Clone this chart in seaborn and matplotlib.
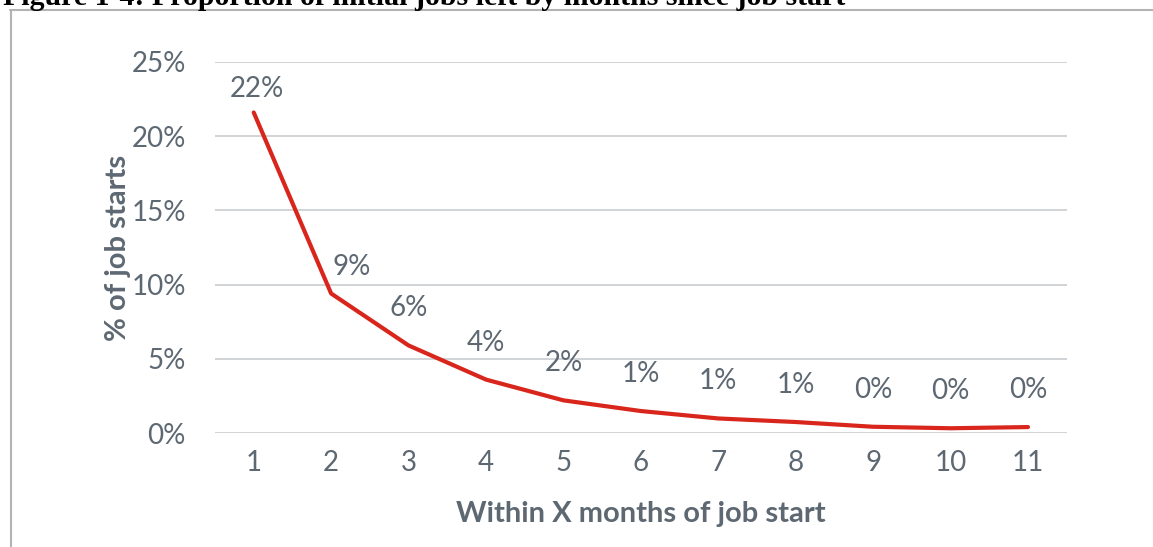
import matplotlib
matplotlib.use("Agg")
import matplotlib.pyplot as plt
from matplotlib.lines import Line2D
import seaborn as sns
import pandas as pd

# Share of initial jobs left, by months since the job started
months = [1, 2, 3, 4, 5, 6, 7, 8, 9, 10, 11]
share_left = [0.216, 0.094, 0.059, 0.036, 0.022, 0.0148, 0.0098, 0.0074, 0.0042, 0.0032, 0.0040]
y_ticks = [0.0, 0.05, 0.10, 0.15, 0.20, 0.25]

title = "Figure 1-4: Proportion of initial jobs left by months since job start"
x_title = "Within X months of job start"
y_title = "% of job starts"

TEXT = "#5d6872"
GRID = "#c9cdd1"
LINE = "#d9261c"
FONT = "Lato"

sns.set_theme(style="white")
plt.rcParams["font.family"] = [FONT, "DejaVu Sans"]

df = pd.DataFrame({"month": months, "share": share_left})

fig = plt.figure(figsize=(11.53, 5.47), dpi=100)
ax = fig.add_axes([215 / 1153, 1 - 433 / 547, (1066.7 - 215) / 1153, (433 - 62) / 547])

sns.lineplot(data=df, x="month", y="share", ax=ax, color=LINE, linewidth=3,
             solid_joinstyle="round", solid_capstyle="round", clip_on=False)

ax.set_xlim(0.5, 11.5)
ax.set_ylim(0, 0.25)
ax.set_yticks(y_ticks)
ax.set_yticklabels([f"{v:.0%}" for v in y_ticks])
ax.set_xticks(months)
ax.set_xticklabels([str(m) for m in months])
ax.tick_params(axis="both", length=0, labelsize=20, colors=TEXT)
ax.tick_params(axis="y", pad=21)
ax.tick_params(axis="x", pad=12)

ax.grid(axis="y", color=GRID, linewidth=1.2)
ax.grid(axis="x", visible=False)
for s in ax.spines.values():
    s.set_visible(False)

ax.set_xlabel(x_title, fontsize=21, fontweight="bold", color=TEXT, labelpad=18)
ax.set_ylabel(y_title, fontsize=21, fontweight="bold", color=TEXT, labelpad=0)

# Data labels above each point
offsets = {1: (3, 23), 2: (21, 27)}
for m, v in zip(months, share_left):
    dx, dy = offsets.get(m, (0, 37))
    ax.annotate(f"{v:.0%}", (m, v), xytext=(dx, dy), textcoords="offset pixels",
                ha="center", va="center", fontsize=20, color=TEXT,
                annotation_clip=False)

# Caption and page frame
fig.text(0.003, 1 - 5 / 547, title, family=["Liberation Serif", "DejaVu Serif"],
         fontweight="bold", fontsize=21.5, color="black", va="baseline", ha="left")
frame = dict(color="#b3b3b3", linewidth=1.5, transform=fig.transFigure)
fig.add_artist(Line2D([10 / 1153, 1.0], [1 - 10 / 547] * 2, **frame))
fig.add_artist(Line2D([11 / 1153] * 2, [1 - 10 / 547, 0.0], **frame))

fig.savefig("out.png", dpi=100, facecolor="white")
